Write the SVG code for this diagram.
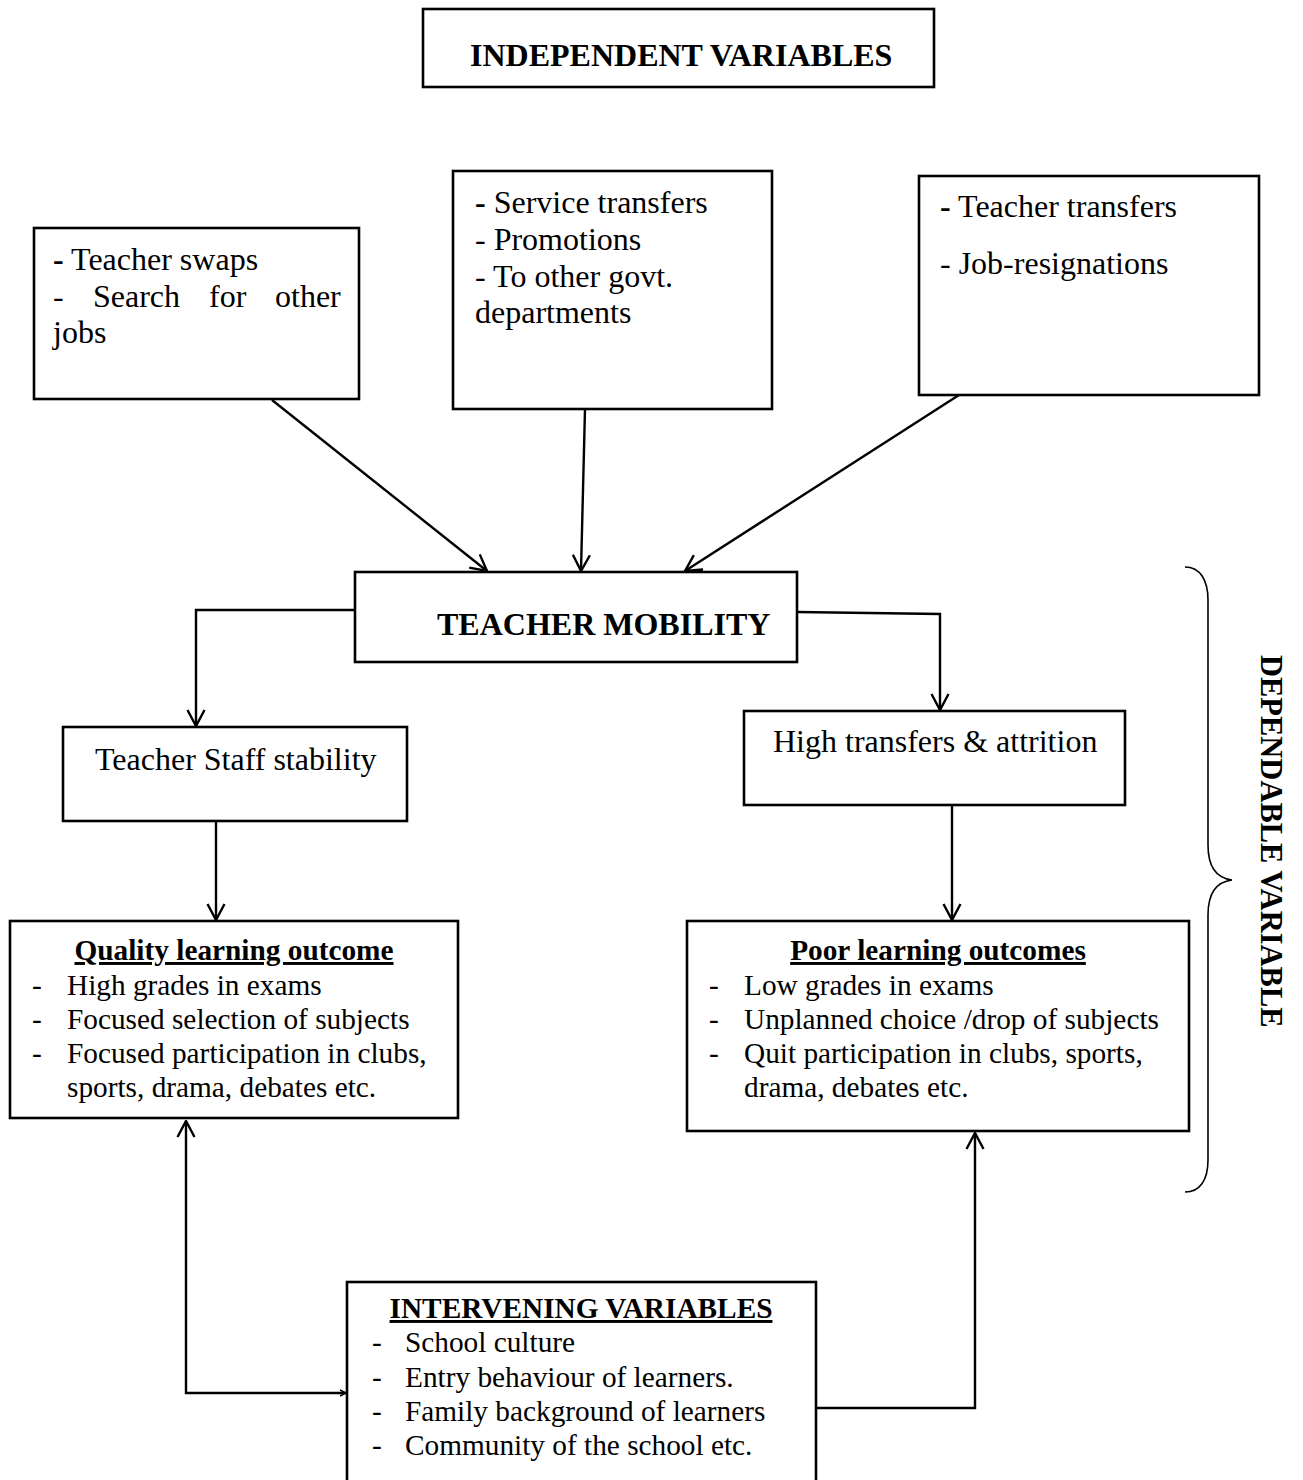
<svg xmlns="http://www.w3.org/2000/svg" width="1303" height="1480" viewBox="0 0 1303 1480">
<style>
.box{fill:#fff;stroke:#000;stroke-width:2.6}
.t{font-family:"Liberation Serif","Times New Roman",serif;fill:#000}
.big{font-size:32px}
.sm{font-size:29.3px}
.b{font-weight:bold}
.u{text-decoration:underline}
.con{fill:none;stroke:#000;stroke-width:2.4}
</style>
<defs>
<marker id="arr" markerUnits="userSpaceOnUse" markerWidth="18" markerHeight="20" viewBox="0 0 18 20" refX="17" refY="10" orient="auto">
<path d="M1,1.5 L17,10 L1,18.5" fill="none" stroke="#000" stroke-width="2.4"/>
</marker>
<marker id="arrs" markerUnits="userSpaceOnUse" markerWidth="8" markerHeight="8" viewBox="0 0 8 8" refX="7" refY="4" orient="auto-start-reverse">
<path d="M1,1 L7,4 L1,7" fill="none" stroke="#000" stroke-width="1.5"/>
</marker>
</defs>
<rect width="1303" height="1480" fill="#fff"/>

<g id="connectors">
<line class="con" x1="272" y1="400" x2="487" y2="571" marker-end="url(#arr)"/>
<line class="con" x1="585" y1="409" x2="581" y2="571" marker-end="url(#arr)"/>
<line class="con" x1="959" y1="395" x2="685" y2="571" marker-end="url(#arr)"/>
<polyline class="con" points="355,610 196,610 196,726" marker-end="url(#arr)"/>
<polyline class="con" points="797,612 940,614 940,710" marker-end="url(#arr)"/>
<line class="con" x1="216" y1="821" x2="216" y2="920" marker-end="url(#arr)"/>
<line class="con" x1="952" y1="805" x2="952" y2="920" marker-end="url(#arr)"/>
<polyline class="con" points="346,1393 186,1393 186,1121" marker-start="url(#arrs)" marker-end="url(#arr)"/>
<polyline class="con" points="816,1408 975,1408 975,1133" marker-end="url(#arr)"/>
<path d="M1185,567 C1200,567 1208,580 1208,600 L1208,845 C1208,866 1215,878 1232,880 C1215,882 1208,894 1208,915 L1208,1160 C1208,1180 1200,1192 1185,1192" fill="none" stroke="#000" stroke-width="1.6"/>
</g>

<g id="title">
<rect class="box" x="423" y="9" width="511" height="78"/>
<text class="t big b" x="470" y="66">INDEPENDENT VARIABLES</text>
</g>

<g id="boxA">
<rect class="box" x="34" y="228" width="325" height="171"/>
<text class="t big" x="53" y="270"><tspan class="b">-</tspan> Teacher swaps</text>
<text class="t big" y="307"><tspan x="53">-</tspan><tspan x="93">Search</tspan><tspan x="209">for</tspan><tspan x="275">other</tspan></text>
<text class="t big" x="53" y="343">jobs</text>
</g>

<g id="boxB">
<rect class="box" x="453" y="171" width="319" height="238"/>
<text class="t big" x="475" y="213"><tspan class="b">-</tspan> Service transfers</text>
<text class="t big" x="475" y="250">- Promotions</text>
<text class="t big" x="475" y="287">- To other govt.</text>
<text class="t big" x="475" y="323">departments</text>
</g>

<g id="boxC">
<rect class="box" x="919" y="176" width="340" height="219"/>
<text class="t big" x="940" y="217"><tspan class="b">-</tspan> Teacher transfers</text>
<text class="t big" x="940" y="274">- Job-resignations</text>
</g>

<g id="mobility">
<rect class="box" x="355" y="572" width="442" height="90"/>
<text class="t big b" x="437" y="635">TEACHER MOBILITY</text>
</g>

<g id="stability">
<rect class="box" x="63" y="727" width="344" height="94"/>
<text class="t big" x="95" y="770">Teacher Staff stability</text>
</g>

<g id="attrition">
<rect class="box" x="744" y="711" width="381" height="94"/>
<text class="t big" x="773" y="752">High transfers &amp; attrition</text>
</g>

<g id="quality">
<rect class="box" x="10" y="921" width="448" height="197"/>
<text class="t sm b u" x="234" y="960" text-anchor="middle">Quality learning outcome</text>
<text class="t sm" x="32" y="995">-</text><text class="t sm" x="67" y="995">High grades in exams</text>
<text class="t sm" x="32" y="1029">-</text><text class="t sm" x="67" y="1029">Focused selection of subjects</text>
<text class="t sm" x="32" y="1063">-</text><text class="t sm" x="67" y="1063">Focused participation in clubs,</text>
<text class="t sm" x="67" y="1097">sports, drama, debates etc.</text>
</g>

<g id="poor">
<rect class="box" x="687" y="921" width="502" height="210"/>
<text class="t sm b u" x="938" y="960" text-anchor="middle">Poor learning outcomes</text>
<text class="t sm" x="709" y="995">-</text><text class="t sm" x="744" y="995">Low grades in exams</text>
<text class="t sm" x="709" y="1029">-</text><text class="t sm" x="744" y="1029">Unplanned choice /drop of subjects</text>
<text class="t sm" x="709" y="1063">-</text><text class="t sm" x="744" y="1063">Quit participation in clubs, sports,</text>
<text class="t sm" x="744" y="1097">drama, debates etc.</text>
</g>

<g id="intervening">
<rect class="box" x="347" y="1282" width="469" height="220"/>
<text class="t sm b u" x="581" y="1318" text-anchor="middle">INTERVENING VARIABLES</text>
<text class="t sm" x="372" y="1352">-</text><text class="t sm" x="405" y="1352">School culture</text>
<text class="t sm" x="372" y="1387">-</text><text class="t sm" x="405" y="1387">Entry behaviour of learners.</text>
<text class="t sm" x="372" y="1421">-</text><text class="t sm" x="405" y="1421">Family background of learners</text>
<text class="t sm" x="372" y="1455">-</text><text class="t sm" x="405" y="1455">Community of the school etc.</text>
</g>

<g id="dependable">
<text class="t b" font-size="30.5" transform="translate(1261,655) rotate(90)">DEPENDABLE VARIABLE</text>
</g>
</svg>
